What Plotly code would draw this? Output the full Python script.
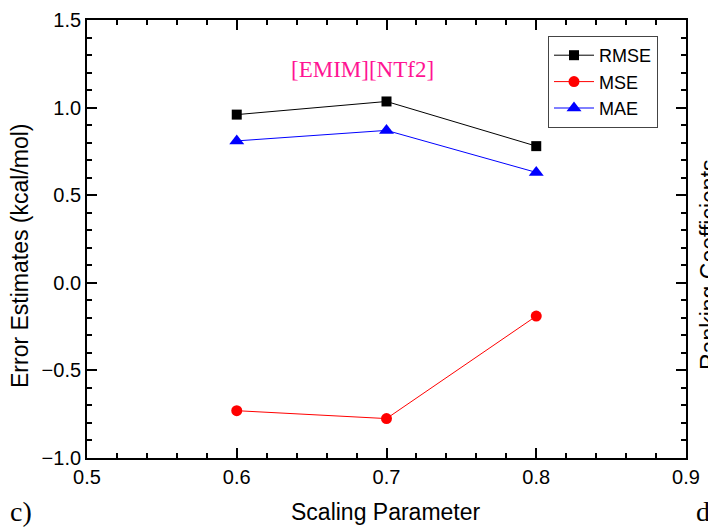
import plotly.graph_objects as go

scaling = [0.6, 0.7, 0.8]
rmse = [0.96, 1.035, 0.78]
mse = [-0.73, -0.775, -0.19]
mae = [0.81, 0.87, 0.63]

W, H = 708, 529
L, R, T, B = 87, 22, 20, 71
PW, PH = W - L - R, H - T - B


def px(xp):
    return (xp - L) / PW


def py(yp):
    return 1 - (yp - T) / PH


fig = go.Figure()
fig.add_trace(go.Scatter(x=scaling, y=rmse, name="RMSE", mode="lines+markers",
                         line=dict(color="black", width=1),
                         marker=dict(symbol="square", size=10, color="black")))
fig.add_trace(go.Scatter(x=scaling, y=mse, name="MSE", mode="lines+markers",
                         line=dict(color="red", width=1),
                         marker=dict(symbol="circle", size=11, color="red")))
fig.add_trace(go.Scatter(x=scaling, y=mae, name="MAE", mode="lines+markers",
                         line=dict(color="blue", width=1),
                         marker=dict(symbol="triangle-up", size=13, color="blue")))

axis_common = dict(showline=True, mirror="allticks", linecolor="black", linewidth=1.8,
                   ticks="inside", ticklen=10, tickwidth=1.5, tickcolor="black",
                   showgrid=False, zeroline=False, automargin=False,
                   tickfont=dict(family="Liberation Sans, Arial", size=20, color="black"),
                   minor=dict(ticks="inside", ticklen=5, tickwidth=1.5, tickcolor="black"))

fig.update_xaxes(range=[0.5, 0.9], dtick=0.1, tickformat=".1f", **axis_common)
fig.update_yaxes(range=[-1.0, 1.5], dtick=0.5, tickformat=".1f", **axis_common)

fig.add_annotation(text="Scaling Parameter", xref="paper", yref="paper",
                   x=px(386), y=py(512), xanchor="center", yanchor="middle",
                   showarrow=False,
                   font=dict(family="Liberation Sans, Arial", size=23, color="black"))
fig.add_annotation(text="Error Estimates (kcal/mol)", xref="paper", yref="paper",
                   x=px(20), y=py(256), xanchor="center", yanchor="middle",
                   textangle=-90, showarrow=False,
                   font=dict(family="Liberation Sans, Arial", size=23, color="black"))
fig.add_annotation(text="[EMIM][NTf2]", xref="paper", yref="paper",
                   x=px(362), y=py(70), xanchor="center", yanchor="middle",
                   showarrow=False,
                   font=dict(family="Liberation Serif, Times New Roman", size=23, color="#FF1493"))
fig.add_annotation(text="c)", xref="paper", yref="paper",
                   x=px(8), y=py(511), xanchor="left", yanchor="middle", showarrow=False,
                   font=dict(family="Liberation Serif, Times New Roman", size=28, color="black"))
fig.add_annotation(text="d)", xref="paper", yref="paper",
                   x=px(694), y=py(511), xanchor="left", yanchor="middle", showarrow=False,
                   font=dict(family="Liberation Serif, Times New Roman", size=28, color="black"))
fig.add_annotation(text="Ranking Coefficients", xref="paper", yref="paper",
                   x=px(694), y=py(265), xanchor="left", yanchor="middle",
                   textangle=-90, showarrow=False,
                   font=dict(family="Liberation Sans, Arial", size=23, color="black"))

fig.update_layout(
    width=W, height=H,
    margin=dict(l=L, r=R, t=T, b=B, autoexpand=False),
    paper_bgcolor="white", plot_bgcolor="white",
    showlegend=True,
    legend=dict(x=px(548), y=py(36), xanchor="left", yanchor="top",
                bgcolor="white", bordercolor="#444", borderwidth=1,
                tracegroupgap=0, itemwidth=40,
                font=dict(family="Liberation Sans, Arial", size=18, color="black")),
)

fig.write_html("out.html")
